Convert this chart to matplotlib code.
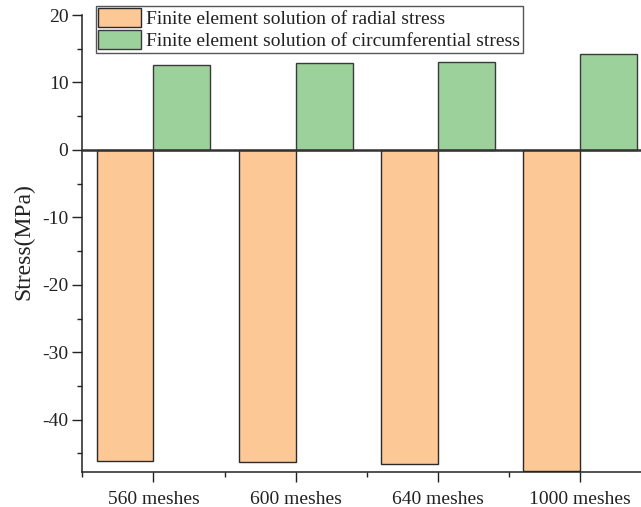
import numpy as np
import matplotlib
matplotlib.use('Agg')
import matplotlib.pyplot as plt
from matplotlib.ticker import MultipleLocator

# Datos
categorias = ['560 meshes', '600 meshes', '640 meshes', '1000 meshes']
radial = [-46.1, -46.3, -46.6, -47.55]
circunferencial = [12.65, 12.9, 13.1, 14.25]

plt.rcParams['font.family'] = ['Liberation Serif', 'DejaVu Serif']
plt.rcParams['axes.unicode_minus'] = False

fig = plt.figure(figsize=(6.41, 5.07), dpi=100)
ax = fig.add_axes([82.3 / 641, 0.0696, 569.2 / 641, 0.9008])

x = np.arange(1, len(categorias) + 1)
ancho = 0.4

ax.bar(x - ancho / 2, radial, ancho, color='#FBC896', edgecolor='#2a2a2a',
       linewidth=1, label='Finite element solution of radial stress', zorder=2)
ax.bar(x + ancho / 2, circunferencial, ancho, color='#9DD19B', edgecolor='#3a3a3a',
       linewidth=1, label='Finite element solution of circumferential stress', zorder=2)

# Línea del cero
ax.axhline(0, color='#333333', linewidth=1.8, zorder=3)

ax.set_xlim(0.5, 4.5)
ax.set_ylim(-47.7, 20)
ax.set_xticks(x)
ax.set_xticklabels(categorias)
ax.set_xticks(np.arange(0.5, 5, 1), minor=True)
ax.yaxis.set_major_locator(MultipleLocator(10))
ax.yaxis.set_minor_locator(MultipleLocator(5))

for lado in ['top', 'right']:
    ax.spines[lado].set_visible(False)
for lado in ['left', 'bottom']:
    ax.spines[lado].set_linewidth(1.1)
    ax.spines[lado].set_color('#222222')

ax.tick_params(which='major', length=7, width=1, color='#222222',
               labelsize=14, pad=3, labelcolor='#222222')
ax.tick_params(which='minor', length=3.5, width=1, color='#222222')
ax.tick_params(axis='x', which='major', pad=7)

ax.set_ylabel('Stress(MPa)', fontsize=17, color='#222222')
ax.yaxis.set_label_coords(-0.085, 0.504)

leg = ax.legend(loc='upper left', bbox_to_anchor=(95.7 / 641, 1 - 5.7 / 507),
                bbox_transform=fig.transFigure, borderaxespad=0, fontsize=14,
                handlelength=2.2, handleheight=1.08, handletextpad=0.27,
                borderpad=0.13, labelspacing=0.12, fancybox=False,
                framealpha=1, edgecolor='#555555')
leg.get_frame().set_linewidth(1)
for t in leg.get_texts():
    t.set_color('#222222')

fig.savefig('out.png', dpi=100)
